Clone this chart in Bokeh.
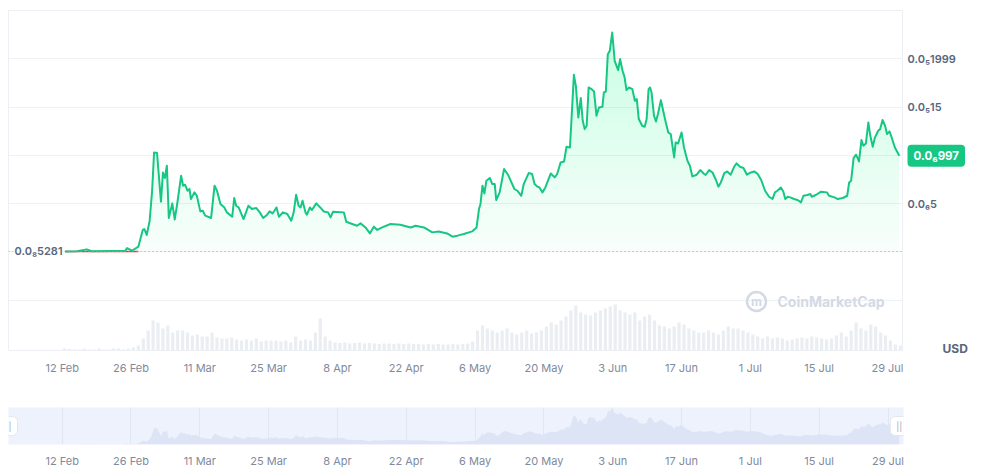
import numpy as np
from bokeh.plotting import figure
from bokeh.layouts import column, row
from bokeh.models import Range1d, FixedTicker, Span, Label
from bokeh.embed import file_html
from bokeh.resources import INLINE

# ---------------- data ----------------
START_DATE = "2024-02-12T00:00"          # day_offset is counted from this date
day_offset = [0.6, 3.0, 5.0, 6.0, 9.8, 12.8, 13.2, 14.2, 15.5, 16.4, 16.7, 17.2, 17.8, 18.3, 18.7, 19.3,
              20.1, 20.5, 20.9, 21.3, 21.7, 22.4, 22.9, 23.4, 24.2, 24.6, 25.0, 25.5, 25.9, 26.2, 26.9,
              27.4, 28.1, 28.6, 29.1, 30.3, 31.0, 31.5, 32.2, 33.0, 33.5, 34.6, 35.0, 35.4, 35.9, 36.9,
              37.9, 38.6, 39.5, 40.2, 40.9, 41.7, 42.2, 42.8, 43.6, 44.1, 44.9, 45.8, 46.6, 47.1, 47.6,
              48.1, 48.5, 48.9, 49.5, 49.8, 50.4, 50.8, 51.7, 52.5, 53.2, 54.1, 54.6, 55.1, 57.3, 57.8,
              59.0, 60.0, 60.7, 61.7, 62.6, 63.4, 64.1, 65.1, 66.8, 68.8, 70.9, 71.9, 73.6, 75.3, 76.6,
              78.3, 79.4, 80.4, 81.7, 83.4, 84.3, 84.8, 85.1, 85.5, 85.9, 86.3, 87.0, 87.5, 88.0, 88.3,
              89.0, 89.9, 90.7, 91.4, 92.0, 92.6, 93.4, 93.9, 94.9, 95.6, 96.1, 96.7, 97.1, 97.7, 98.3,
              99.4, 100.2, 100.7, 101.4, 102.1, 102.6, 103.3, 103.6, 104.1, 104.5, 105.0, 105.5, 105.9,
              106.3, 106.7, 107.1, 107.7, 108.2, 108.7, 109.2, 109.9, 110.2, 110.6, 111.0, 111.4, 111.9,
              112.4, 113.1, 113.5, 114.0, 114.4, 114.8, 115.3, 116.0, 116.5, 116.9, 117.3, 118.0, 118.5,
              118.9, 119.3, 119.6, 119.9, 120.4, 120.8, 121.2, 121.8, 122.3, 122.8, 123.3, 123.8, 124.5,
              124.8, 125.3, 126.0, 126.5, 127.2, 127.7, 128.2, 129.1, 129.8, 130.6, 130.9, 131.6, 132.3,
              133.0, 133.5, 134.0, 134.7, 135.3, 136.0, 136.7, 137.2, 137.9, 138.6, 139.3, 140.1, 140.8,
              141.5, 142.2, 143.0, 143.8, 144.5, 145.0, 145.5, 146.2, 146.7, 147.1, 147.6, 148.1, 148.9,
              149.6, 150.3, 150.8, 151.6, 152.2, 152.5, 153.3, 154.4, 155.6, 156.0, 157.1, 157.8, 158.8,
              159.7, 160.1, 160.5, 161.0, 161.5, 162.1, 162.6, 163.0, 163.5, 164.0, 164.4, 164.9, 165.3,
              166.0, 166.4, 166.9, 167.4, 167.8, 168.3, 168.7, 169.4, 170.3]
# price in units of 1e-7 USD
price_e7 = [0.06, 0.07, 0.27, 0.08, 0.10, 0.10, 0.41, 0.13, 0.55, 2.28, 2.38, 1.76, 3.24, 6.34, 10.30, 10.24,
            5.20, 8.23, 7.66, 8.93, 3.52, 5.03, 3.37, 4.97, 7.89, 6.86, 6.96, 6.34, 6.52, 5.48, 6.17,
            5.82, 4.20, 4.27, 3.76, 3.52, 6.86, 6.34, 4.97, 4.61, 4.10, 3.65, 5.59, 4.79, 4.61, 3.41,
            4.79, 4.45, 4.55, 4.10, 3.52, 3.86, 4.20, 3.99, 4.61, 3.65, 4.10, 3.93, 3.24, 4.10, 5.93,
            4.79, 4.61, 5.31, 4.10, 3.86, 4.61, 4.34, 5.03, 4.61, 4.20, 4.10, 3.58, 4.17, 4.10, 3.13,
            2.90, 2.72, 2.96, 2.54, 1.92, 2.62, 2.28, 2.54, 2.90, 2.82, 2.54, 2.72, 2.54, 2.03, 2.13,
            1.92, 1.58, 1.69, 1.86, 2.13, 2.54, 4.45, 4.97, 6.86, 6.06, 7.38, 7.66, 7.03, 7.03, 5.38,
            6.17, 8.59, 8.00, 7.20, 6.52, 6.34, 5.82, 7.03, 8.17, 8.07, 7.03, 6.76, 6.68, 6.17, 6.68,
            8.13, 7.72, 8.07, 9.27, 9.37, 10.89, 10.82, 13.58, 18.34, 17.20, 13.92, 15.93, 13.58,
            12.72, 13.07, 17.03, 16.86, 16.61, 14.10, 14.96, 15.03, 16.51, 16.61, 20.48, 20.82, 22.72,
            19.79, 18.83, 19.97, 18.76, 18.13, 16.76, 17.03, 16.86, 15.65, 15.83, 13.76, 13.07, 12.96,
            13.76, 16.86, 17.03, 16.51, 14.10, 13.51, 14.28, 15.72, 14.55, 13.41, 12.37, 12.21, 9.79,
            11.34, 11.23, 12.37, 10.82, 9.44, 8.93, 7.82, 8.00, 8.48, 8.07, 7.97, 8.48, 8.23,
            7.45, 6.76, 7.20, 8.17, 8.34, 8.00, 8.82, 9.17, 8.82, 8.69, 8.00, 8.23, 8.34,
            8.07, 7.45, 6.34, 5.72, 5.48, 6.17, 6.34, 6.68, 6.27, 5.48, 5.72, 5.65, 5.48,
            5.38, 5.13, 5.82, 5.90, 6.00, 5.72, 5.90, 6.24, 6.17, 5.82, 5.65, 5.48, 5.59,
            5.82, 7.20, 7.38, 9.72, 10.07, 9.37, 11.59, 11.00, 11.23, 13.41, 12.03, 10.89, 11.79,
            12.55, 12.72, 13.66, 13.07, 12.21, 12.48, 11.93, 10.82, 9.97]
# daily volume (thousand USD), days 0..170 from START_DATE
volume_k = [20, 15, 10, 10, 20, 10, 10, 20, 10, 10, 20, 20, 10, 20, 30, 50,
            120, 200, 300, 280,
            220, 250, 180, 200,
            200, 180, 150, 160, 140,
            140, 180, 130, 120, 120, 130, 110,
            100, 110, 100, 120, 90, 100, 100,
            100, 90, 100, 80, 140, 100, 110,
            100, 180, 320, 140, 100,
            80, 75, 80, 70, 75, 80, 70, 75, 70, 65, 70, 70, 65, 70, 65, 70, 65,
            65, 60, 65, 60, 65, 60, 60, 65, 60, 65, 70, 90,
            200,
            250, 220, 200, 180, 200, 220, 180, 160, 180, 200, 170,
            180, 200, 240, 280, 260, 300, 340, 400,
            450, 380, 360, 350, 380, 400, 420, 440, 460,
            400, 380, 360, 380, 300, 340, 360, 300,
            250, 240, 220, 240, 280, 260, 220, 200, 180, 180,
            200, 180, 160, 200, 240, 220, 220, 200, 180, 160,
            140, 120, 140, 120, 130, 120, 100, 110, 120, 130,
            120, 140, 130, 120, 110, 120, 150, 180, 140, 200,
            280, 220, 200, 260, 240, 180, 150, 100, 60, 50]
start_price = 5.281e-9
last_price = 9.97e-7
start_price_label = "0.0₈5281"
last_price_label = "0.0₆997"
tick_dates = ["2024-02-12", "2024-02-26", "2024-03-11", "2024-03-25", "2024-04-08", "2024-04-22",
              "2024-05-06", "2024-05-20", "2024-06-03", "2024-06-17", "2024-07-01", "2024-07-15",
              "2024-07-29"]
tick_labels = ["12 Feb", "26 Feb", "11 Mar", "25 Mar", "8 Apr", "22 Apr", "6 May", "20 May",
               "3 Jun", "17 Jun", "1 Jul", "15 Jul", "29 Jul"]
price_ticks = [5e-7, 1.5e-6, 1.999e-6]
price_tick_labels = ["0.0₆5", "0.0₅15", "0.0₅1999"]
grid_prices = [-5e-7, 0.0, 5e-7, 1e-6, 1.5e-6, 2e-6]

# ---------------- helpers ----------------
DAY_MS = 86400000.0
def ms(s):
    return float((np.datetime64(s) - np.datetime64("1970-01-01T00:00")) / np.timedelta64(1, "ms"))

base_ms = ms(START_DATE)
x = base_ms + np.array(day_offset) * DAY_MS
price = np.array(price_e7) * 1e-7
vol_x = base_ms + (np.arange(len(volume_k)) + 0.5) * DAY_MS
tick_ms = [ms(d + "T00:00") for d in tick_dates]

GREEN = "#16c784"
FONT = "Inter"
FONT_SEMI = "'Inter SemiBold', Inter"
LABEL_GREY = "#58667e"
AXIS_GREY = "#808a9d"

xr = Range1d(ms("2024-02-01T02:00"), ms("2024-08-01T03:40"))
yr = Range1d(-1.02e-6, 2.5e-6)

FRAME_W = 895
FRAME_H = 340
ms_per_px = (xr.end - xr.start) / FRAME_W
val_per_px = (yr.end - yr.start) / FRAME_H

# ---------------- main chart ----------------
p = figure(width=903, height=380, x_axis_type="datetime", y_axis_location=None,
           x_range=xr, y_range=yr, output_backend="svg", toolbar_location=None,
           min_border_left=8, min_border_right=0, min_border_top=10, min_border_bottom=30,
           background_fill_color="white", border_fill_color="white",
           outline_line_color="#eceff3", outline_line_width=1)
p.extra_y_ranges = {"vol": Range1d(0, 3400)}

p.xgrid.visible = False
p.ygrid.ticker = FixedTicker(ticks=grid_prices)
p.ygrid.grid_line_color = "#eff2f5"
p.ygrid.grid_line_width = 1

# volume bars
p.vbar(x=vol_x, top=volume_k, width=0.65 * DAY_MS, y_range_name="vol",
       fill_color="#eaedf1", line_color=None)

# gradient-like area fill
p.varea(x=x, y1=np.full_like(price, start_price), y2=np.maximum(price, start_price),
        fill_color=GREEN, fill_alpha=0.025)
levels = np.linspace(start_price, price.max(), 25)[:-1]
for lv in levels:
    p.varea(x=x, y1=np.full_like(price, lv), y2=np.maximum(price, lv),
            fill_color=GREEN, fill_alpha=0.0095)

# start-price dotted line
p.add_layout(Span(location=start_price, dimension="width", line_color="#9aa3b2",
                  line_dash="1 3", line_width=1))

# early part at start price shown in red
early = np.where((price < 0.6e-7) & (np.array(day_offset) < 16), start_price, np.nan)
p.line(x=x, y=early, line_color="#ea3943", line_width=1.5)

p.line(x=x, y=price, line_color=GREEN, line_width=2, line_join="round")

xax = p.xaxis[0]
xax.ticker = FixedTicker(ticks=tick_ms)
xax.major_label_overrides = dict(zip(tick_ms, tick_labels))
xax.axis_line_color = None
xax.major_tick_line_color = None
xax.minor_tick_line_color = None
xax.major_tick_out = 0
xax.major_tick_in = 0
xax.minor_tick_out = 0
xax.major_label_standoff = 10
xax.major_label_text_font = FONT
xax.major_label_text_font_size = "11px"
xax.major_label_text_color = AXIS_GREY

# start price label (left)
p.add_layout(Label(x=xr.start, y=start_price, x_offset=5, text=start_price_label,
                   text_baseline="middle", text_align="left", text_font=FONT_SEMI,
                   text_font_size="11px", text_color=LABEL_GREY,
                   background_fill_color="white", padding=1))

# watermark
logo_x = xr.end - 147 * ms_per_px
logo_y = yr.start + 49 * val_per_px
p.scatter(x=[logo_x], y=[logo_y], marker="circle", size=19, fill_color=None,
          line_color="#d3d9e5", line_width=2.5)
p.add_layout(Label(x=logo_x, y=logo_y, text="m", text_baseline="middle", text_align="center",
                   text_font=FONT, text_font_size="12px", text_font_style="bold",
                   text_color="#d3d9e5"))
p.add_layout(Label(x=logo_x, y=logo_y, x_offset=21, text="CoinMarketCap",
                   text_baseline="middle", text_align="left", text_font=FONT,
                   text_font_size="14px", text_font_style="bold", text_color="#d3d9e5"))

# ---------------- right price-scale strip (same vertical range as the chart) ----------------
s = figure(width=92, height=380, x_range=Range1d(0, 1), y_range=yr,
           x_axis_location=None, y_axis_location=None, output_backend="svg",
           toolbar_location=None, min_border_left=0, min_border_right=0,
           min_border_top=10, min_border_bottom=30, outline_line_color=None,
           background_fill_color="white", border_fill_color="white")
s.grid.visible = False
for tv, tl in zip(price_ticks, price_tick_labels):
    s.add_layout(Label(x=0, y=tv, x_offset=4, text=tl, text_baseline="middle", text_align="left",
                       text_font=FONT_SEMI, text_font_size="11px", text_color=LABEL_GREY))
s.add_layout(Label(x=0, y=last_price, x_offset=4, text=last_price_label,
                   text_baseline="middle", text_align="left", text_font=FONT,
                   text_font_size="11.5px", text_font_style="bold", text_color="white",
                   background_fill_color=GREEN, padding=(6, 4), border_radius=4))
# placed in the strip's lower side panel so that it is not clipped at the frame edge
s.add_layout(Label(x=0, y=yr.start + 2 * val_per_px, x_offset=39, text="USD",
                   text_baseline="middle", text_align="left", text_font=FONT,
                   text_font_size="12px", text_font_style="bold", text_color=LABEL_GREY), "below")

# ---------------- navigator ----------------
nyr = Range1d(0, 23.2e-7)
p2 = figure(width=995, height=90, x_axis_type="datetime", y_axis_location=None,
            x_range=xr, y_range=nyr, output_backend="svg", toolbar_location=None,
            min_border_left=8, min_border_right=92, min_border_top=27, min_border_bottom=23,
            background_fill_color="#eef2fd", border_fill_color="white", outline_line_color=None)
p2.ygrid.visible = False
p2.xgrid.ticker = FixedTicker(ticks=tick_ms)
p2.xgrid.grid_line_color = "#e1e6f3"
p2.varea(x=x, y1=np.zeros_like(price), y2=price, fill_color="#dde4f5")

nax = p2.xaxis[0]
nax.ticker = FixedTicker(ticks=tick_ms)
nax.major_label_overrides = dict(zip(tick_ms, tick_labels))
nax.axis_line_color = None
nax.major_tick_line_color = None
nax.minor_tick_line_color = None
nax.major_tick_out = 0
nax.major_tick_in = 0
nax.minor_tick_out = 0
nax.major_label_standoff = 9
nax.major_label_text_font = FONT
nax.major_label_text_font_size = "11px"
nax.major_label_text_color = AXIS_GREY

mid = (nyr.start + nyr.end) / 2
for hx in (xr.start, x[-1]):
    p2.add_layout(Label(x=hx, y=mid, text="||", text_baseline="middle", text_align="center",
                        text_font=FONT, text_font_size="9px", text_color="#a0a8b6",
                        background_fill_color="white", border_line_color="#e3e7ee",
                        padding=(6, 4), border_radius=5))

layout = column(row(p, s, spacing=0), p2, spacing=0)
open("out.html", "w").write(file_html(layout, INLINE))
